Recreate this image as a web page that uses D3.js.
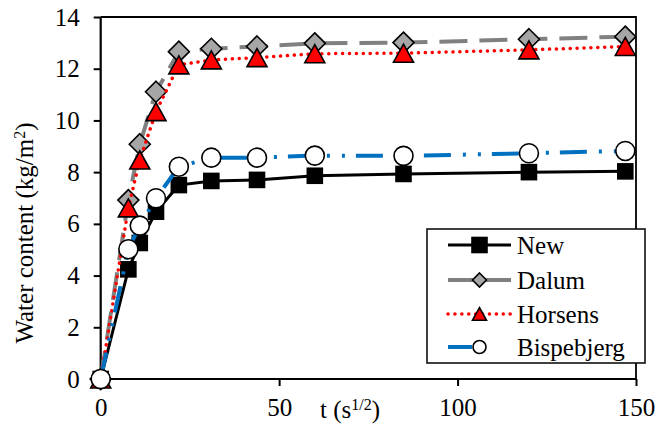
<html>
<meta charset="utf-8">
<body>
<script src="https://cdn.jsdelivr.net/npm/d3@7"></script>
<script>

/* data: t in s^(1/2), water content in kg/m2 */
var tValues = [0, 7.75, 10.95, 15.5, 21.9, 31, 43.8, 60, 84.85, 120, 147];
var newValues = [0, 4.24, 5.26, 6.47, 7.5, 7.66, 7.7, 7.86, 7.93, 8.0, 8.03];
var dalumValues = [0, 6.92, 9.08, 11.11, 12.66, 12.77, 12.86, 12.98, 13.01, 13.14, 13.24];
var horsensValues = [0, 6.62, 8.47, 10.34, 12.15, 12.34, 12.43, 12.58, 12.6, 12.73, 12.86];
var bispebjergValues = [0, 5.02, 5.93, 6.99, 8.21, 8.56, 8.56, 8.64, 8.63, 8.73, 8.82];
var seriesNames = ['New', 'Dalum', 'Horsens', 'Bispebjerg'];
var xTicks = [0, 50, 100, 150];
var yTicks = [0, 2, 4, 6, 8, 10, 12, 14];

/*******************
global settings
********************/
var
    width = 670,
    height = 433,
    plotLeft = 100.7,
    plotRight = 636,
    plotTop = 17,
    plotBottom = 379,
    fontFamily = "Liberation Serif"
    ;

var styles = [
    {stroke: '#000', width: 3, dash: null, cap: 'butt', marker: 'square', fill: '#000'},
    {stroke: '#808080', width: 4, dash: '28,12', cap: 'butt', marker: 'diamond', fill: '#a6a6a6'},
    {stroke: '#ff0000', width: 3.5, dash: '0.1,6.8', cap: 'round', marker: 'triangle', fill: '#ff0000'},
    {stroke: '#0070c0', width: 4, dash: '27,12,3,12,3,11', cap: 'butt', marker: 'circle', fill: '#fff'}
];

var allValues = [newValues, dalumValues, horsensValues, bispebjergValues];

var x = d3.scaleLinear().domain([0, 150]).range([plotLeft, plotRight]);
var y = d3.scaleLinear().domain([0, 14]).range([plotBottom, plotTop]);

d3.select("body").style("margin", "0px").style("background", "#fff");

var svg = d3.select("body").append("svg")
    .attr("width", width)
    .attr("height", height)
    .style("display", "block");

// frame: top and right thin, axes drawn below
svg.append("path")
    .attr("d", "M" + plotLeft + "," + plotTop + "H" + plotRight + "V" + plotBottom)
    .attr("fill", "none")
    .attr("stroke", "#000")
    .attr("stroke-width", 1.8);

var yAxis = svg.append("g")
    .attr("transform", "translate(" + plotLeft + ",0)")
    .call(d3.axisLeft(y).tickValues(yTicks).tickSize(7).tickPadding(14).tickFormat(d3.format("d")));

var xAxis = svg.append("g")
    .attr("transform", "translate(0," + plotBottom + ")")
    .call(d3.axisBottom(x).tickValues(xTicks).tickSize(7).tickPadding(12).tickFormat(d3.format("d")));

[yAxis, xAxis].forEach(function(a) {
    a.attr("font-size", null).attr("font-family", null);
    a.selectAll(".domain").attr("stroke", "#000").attr("stroke-width", 2.2);
    a.selectAll(".tick line").attr("stroke", "#000").attr("stroke-width", 2);
});
yAxis.select(".domain").attr("d", "M0," + plotBottom + "V" + plotTop);
xAxis.select(".domain").attr("d", "M" + plotLeft + ",0H" + plotRight);

// marker drawing
function drawMarker(sel, kind, s, fill) {
    if (kind == 'square') {
        sel.append("rect").attr("x", -s/2).attr("y", -s/2).attr("width", s).attr("height", s);
    } else if (kind == 'diamond') {
        sel.append("path").attr("d", "M0," + (-s/2) + "L" + (s/2) + ",0L0," + (s/2) + "L" + (-s/2) + ",0Z");
    } else if (kind == 'triangle') {
        var h = s * 0.9;
        sel.append("path").attr("d", "M0," + (-h/2) + "L" + (s/2) + "," + (h/2) + "L" + (-s/2) + "," + (h/2) + "Z");
    } else {
        sel.append("circle").attr("r", s/2);
    }
    sel.selectAll("*").attr("fill", fill).attr("stroke", "#000").attr("stroke-width", 1.6);
}

var markerSize = {square: 15, diamond: 21, triangle: 20, circle: 19};
var legendSize = {square: 15, diamond: 14, triangle: 14, circle: 13};

var line = d3.line()
    .x(function(d) { return x(d[0]); })
    .y(function(d) { return y(d[1]); });

allValues.forEach(function(vals, i) {
    var st = styles[i];
    var pts = tValues.map(function(t, j) { return [t, vals[j]]; });
    var g = svg.append("g");
    g.append("path")
        .attr("d", line(pts))
        .attr("fill", "none")
        .attr("stroke", st.stroke)
        .attr("stroke-width", st.width)
        .attr("stroke-dasharray", st.dash)
        .attr("stroke-linecap", st.cap);
    g.selectAll("g.m").data(pts).enter().append("g")
        .attr("class", "m")
        .attr("transform", function(d) { return "translate(" + x(d[0]) + "," + y(d[1]) + ")"; })
        .each(function() { drawMarker(d3.select(this), st.marker, markerSize[st.marker], st.fill); });
});

// legend
var legend = svg.append("g");
legend.append("rect")
    .attr("x", 427).attr("y", 229).attr("width", 218).attr("height", 134)
    .attr("fill", "#fff").attr("stroke", "#000").attr("stroke-width", 1.5);

var legendY = [245, 280, 314, 347];
seriesNames.forEach(function(name, i) {
    var st = styles[i];
    var row = legend.append("g").attr("transform", "translate(0," + legendY[i] + ")");
    row.append("line")
        .attr("x1", 448).attr("x2", 511).attr("y1", 0).attr("y2", 0)
        .attr("stroke", st.stroke)
        .attr("stroke-width", st.width)
        .attr("stroke-dasharray", i == 2 ? '0.1,6.8' : (i == 3 ? '24,11,3,40' : null))
        .attr("stroke-linecap", st.cap);
    var m = row.append("g").attr("transform", "translate(479.5,0)");
    drawMarker(m, st.marker, legendSize[st.marker], st.fill);
    row.append("text").attr("x", 517).attr("y", 0).attr("dy", "0.34em").text(name);
});

// axis titles
var yt = svg.append("text")
    .attr("transform", "translate(33,233) rotate(-90)")
    .attr("text-anchor", "middle");
yt.append("tspan").text("Water content (kg/m");
yt.append("tspan").attr("class", "sup").attr("baseline-shift", "super").text("2");
yt.append("tspan").text(")");

var xt = svg.append("text")
    .attr("x", 350).attr("y", 418)
    .attr("text-anchor", "middle");
xt.append("tspan").text("t (s");
xt.append("tspan").attr("class", "sup").attr("baseline-shift", "super").text("1/2");
xt.append("tspan").text(")");

// same font on every text
svg.selectAll("text")
    .attr("font-size", 25)
    .style("font-family", "'" + fontFamily + "'")
    .attr("fill", "#000");
svg.selectAll("tspan.sup").attr("font-size", 16);

</script>
</body>
</html>
